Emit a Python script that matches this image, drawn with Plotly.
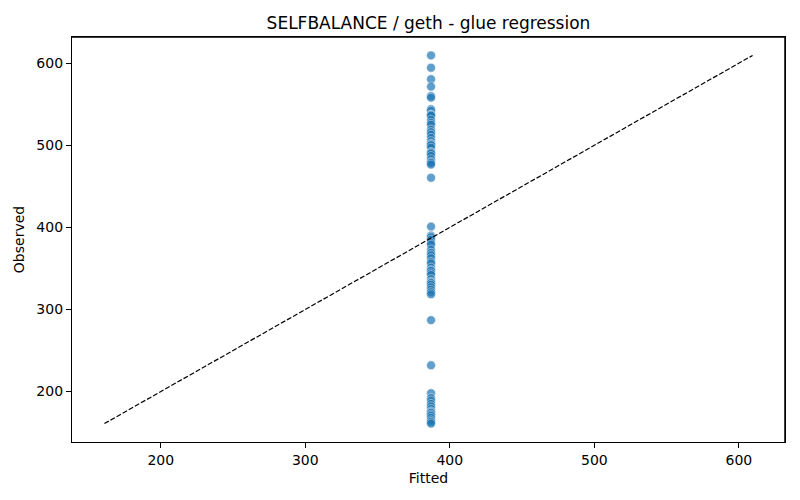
import plotly.graph_objects as go

# fitted value is the same for every run (glue model predicts a constant)
fitted_value = 387.0

observed = [
    609.5, 594.5, 580.5, 571.5, 560.0, 558.0, 544.0, 542.0, 537.5, 537.0,
    536.0, 531.0, 527.5, 525.0, 519.0, 516.0, 513.0, 509.0, 505.0, 502.0,
    501.0, 500.0, 497.0, 492.0, 490.5, 490.0, 487.0, 483.0, 480.0, 478.5,
    476.5, 460.5,
    401.0, 390.0, 388.0, 385.0, 381.0, 379.0, 373.0, 369.0, 366.0, 362.5,
    358.0, 356.0, 351.0, 348.0, 347.0, 344.0, 342.0, 337.0, 334.0, 333.0,
    332.0, 330.0, 327.0, 324.0, 321.0, 318.5, 287.0,
    232.0, 198.0, 192.0, 189.0, 185.0, 182.0, 179.0, 176.0, 175.0, 174.0,
    172.0, 170.5, 168.0, 165.0, 163.0, 161.0,
]
fitted = [fitted_value] * len(observed)

lo = min(min(fitted), min(observed))
hi = max(max(fitted), max(observed))
pad = (hi - lo) * 0.05

font = "DejaVu Sans"

fig = go.Figure()
fig.add_trace(go.Scatter(
    x=fitted, y=observed, mode="markers",
    marker=dict(size=9, color="#1f77b4", opacity=0.7,
                line=dict(color="white", width=0.6)),
    showlegend=False,
))
# y = x reference line
fig.add_trace(go.Scatter(
    x=[lo, hi], y=[lo, hi], mode="lines",
    line=dict(color="black", width=1.2, dash="5px,2px"),
    showlegend=False,
))

axis_style = dict(
    showgrid=False, zeroline=False, showline=True, mirror=True,
    linecolor="black", linewidth=1.2, ticks="outside", ticklen=5,
    tickwidth=1, tickcolor="black",
    tickfont=dict(family=font, size=14, color="black"),
)

# frame around the axes (top and right sides)
fig.add_shape(type="line", xref="paper", yref="paper", x0=0, y0=1, x1=1, y1=1,
              line=dict(color="black", width=1.5), layer="above")
fig.add_shape(type="line", xref="paper", yref="paper", x0=1, y0=0, x1=1, y1=1,
              line=dict(color="black", width=1.5), layer="above")

fig.update_layout(
    width=800, height=500,
    paper_bgcolor="white", plot_bgcolor="white",
    margin=dict(l=64, r=23, t=29, b=66),
    title=dict(text="SELFBALANCE / geth - glue regression",
               xref="paper", x=0.5, xanchor="center", y=0.97, yanchor="middle",
               font=dict(family=font, size=17, color="black")),
    xaxis=dict(title=dict(text="Fitted", font=dict(family=font, size=14, color="black"), standoff=6),
               range=[lo - pad, hi + pad], tickvals=[200, 300, 400, 500, 600], **axis_style),
    yaxis=dict(title=dict(text="Observed", font=dict(family=font, size=14, color="black"), standoff=8),
               range=[lo - pad, hi + pad], tickvals=[200, 300, 400, 500, 600], **axis_style),
)

fig.write_html("out.html")
